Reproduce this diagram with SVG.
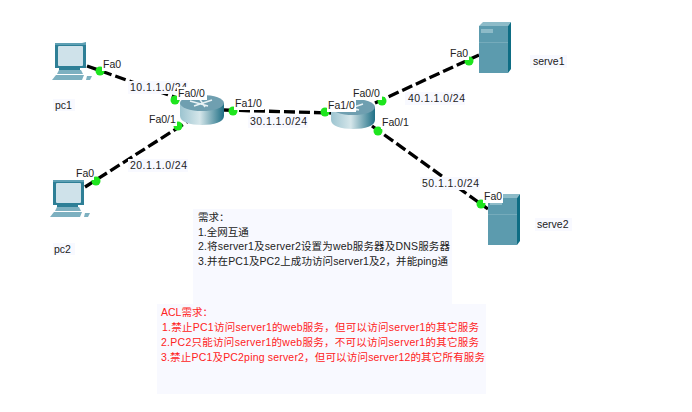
<svg xmlns="http://www.w3.org/2000/svg" width="692" height="412" viewBox="0 0 692 412">
<style>
text{font-family:"Liberation Sans","Noto Sans CJK SC",sans-serif;font-size:10.5px;fill:#222}
.cn{font-size:10.5px;fill:#222}
.red{fill:#f22}
.bg{fill:#f8f9ff}
.wb{fill:#fff}
.link{stroke:#000;stroke-width:3.3;stroke-dasharray:11 4;fill:none}
.dot{fill:#1ee51e}
.srv{fill:#5c9bae}
.srvt{fill:#8dbbc8}
.srvs{fill:#0e6d84}
.pcf{fill:#5d9fb3}
.pcd{fill:#2e7f96}
.pcs{fill:#cfe2ea}
.pcb{fill:#7db0c0}
</style>
<defs>
<linearGradient id="rg" x1="0" x2="1" y1="0" y2="0"><stop offset="0" stop-color="#9cc4d0"/><stop offset=".45" stop-color="#d5e6ea"/><stop offset="1" stop-color="#1f6f85"/></linearGradient>
<g id="router">
<path d="M-22-6V7C-22 13-12 16 0 16S22 13 22 7V-6Z" fill="url(#rg)"/>
<ellipse cx="0" cy="-6" rx="22" ry="8" fill="#6f9fb0"/>
<path d="M-12-8 6-3M-8-3 10-9M-3-11 3-2" stroke="#e8f2f5" stroke-width="1.5" fill="none"/>
</g>
<g id="pc">
<path class="pcd" d="M2 0H33V25H27V27H6V25H2Z"/>
<path class="pcf" d="M2 0H29L33 -1V2H2Z"/>
<rect class="pcs" x="5" y="3" width="25" height="20" rx="1"/>
<path class="pcb" d="M6 27H28L30 31H4Z"/>
<path class="pcb" d="M-1 37 3 32H31L29 37Z"/>
<path class="pcb" d="M34 33H39L37 37H33Z"/>
</g>
<g id="server">
<path class="srvt" d="M0 4 4 0H32L29 4Z"/>
<rect class="srv" x="0" y="4" width="29" height="47"/>
<path class="srvs" d="M29 4 32 0V47L29 51Z"/>
<rect class="srvt" x="2" y="7" width="12" height="4"/>
<rect class="srvt" x="0" y="20" width="29" height="1" opacity=".5"/>
</g>
</defs>

<g id="connectors">
<path class="link" d="M87 66 180 99"/>
<path class="link" d="M85 187 190 120"/>
<path class="link" d="M224 110 331 113"/>
<path class="link" d="M375 103 479 55"/>
<path class="link" d="M372 126 488 209"/>
</g>

<g id="pc1"><use href="#pc" x="53" y="43"/><rect class="bg" x="53" y="99" width="22" height="12"/><text x="55" y="109">pc1</text></g>
<g id="pc2"><use href="#pc" x="51" y="180"/><rect class="bg" x="53" y="243" width="22" height="12"/><text x="54" y="253">pc2</text></g>
<g id="router1"><use href="#router" x="202" y="109"/></g>
<g id="router2"><use href="#router" x="353" y="113"/></g>
<g id="serve1"><use href="#server" x="479" y="22"/><rect class="bg" x="530" y="55" width="37" height="13"/><text x="533" y="65">serve1</text></g>
<g id="serve2"><use href="#server" x="488" y="194"/><rect class="bg" x="535" y="218" width="37" height="13"/><text x="537" y="228">serve2</text></g>

<g id="net-labels">
<rect class="bg" x="128" y="81" width="60" height="13"/><text x="130" y="91" textLength="57">10.1.1.0/24</text>
<rect class="bg" x="128" y="159" width="60" height="13"/><text x="130" y="169" textLength="57">20.1.1.0/24</text>
<rect class="bg" x="248" y="115" width="60" height="13"/><text x="250" y="125" textLength="57">30.1.1.0/24</text>
<rect class="bg" x="405" y="92" width="60" height="13"/><text x="408" y="102" textLength="57">40.1.1.0/24</text>
<rect class="bg" x="420" y="177" width="60" height="13"/><text x="422" y="187" textLength="57">50.1.1.0/24</text>
</g>

<g id="port-dots">
<circle class="dot" cx="100" cy="71" r="4.5"/><circle class="dot" cx="175" cy="100" r="4.5"/>
<circle class="dot" cx="96" cy="181" r="4.5"/><circle class="dot" cx="178" cy="126" r="4.5"/>
<circle class="dot" cx="233" cy="111" r="4.5"/><circle class="dot" cx="325" cy="112" r="4.5"/>
<circle class="dot" cx="382" cy="101" r="4.5"/><circle class="dot" cx="469" cy="61" r="4.5"/>
<circle class="dot" cx="378" cy="131" r="4.5"/><circle class="dot" cx="481" cy="204" r="4.5"/>
</g>

<g id="port-labels">
<rect class="wb" x="102" y="58" width="19" height="13"/><text x="103" y="68">Fa0</text>
<rect class="wb" x="177" y="87" width="30" height="13"/><text x="178" y="97">Fa0/0</text>
<rect class="wb" x="148" y="113" width="29" height="13"/><text x="149" y="123">Fa0/1</text>
<rect class="wb" x="234" y="97" width="30" height="13"/><text x="235" y="107">Fa1/0</text>
<rect class="wb" x="75" y="167" width="19" height="13"/><text x="76" y="177">Fa0</text>
<rect class="wb" x="327" y="99" width="29" height="13"/><text x="328" y="109">Fa1/0</text>
<rect class="wb" x="352" y="87" width="30" height="13"/><text x="353" y="97">Fa0/0</text>
<rect class="wb" x="381" y="116" width="29" height="13"/><text x="382" y="126">Fa0/1</text>
<rect class="wb" x="449" y="47" width="20" height="13"/><text x="450" y="57">Fa0</text>
<rect class="wb" x="483" y="190" width="20" height="13"/><text x="484" y="200">Fa0</text>
</g>

<g id="requirements">
<rect class="bg" x="193" y="209" width="259" height="95"/>
<text class="cn" x="198" y="221">需求：</text>
<text class="cn" x="198" y="236">1.全网互通</text>
<text class="cn" x="198" y="250" textLength="252">2.将server1及server2设置为web服务器及DNS服务器</text>
<text class="cn" x="198" y="265" textLength="250">3.并在PC1及PC2上成功访问server1及2，并能ping通</text>
</g>
<g id="acl">
<rect class="bg" x="157" y="304" width="329" height="90"/>
<text class="cn red" x="161" y="316">ACL需求：</text>
<text class="cn red" x="162" y="331" textLength="317">1.禁止PC1访问server1的web服务，但可以访问server1的其它服务</text>
<text class="cn red" x="161" y="346" textLength="318">2.PC2只能访问server1的web服务，不可以访问server1的其它服务</text>
<text class="cn red" x="161" y="361" textLength="324">3.禁止PC1及PC2ping server2，但可以访问server12的其它所有服务</text>
</g>
</svg>
